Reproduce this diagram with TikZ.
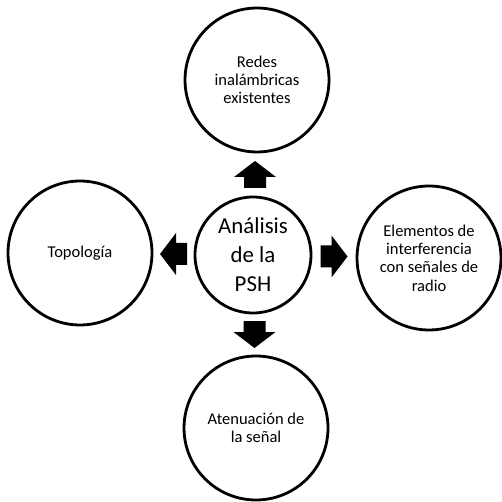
\documentclass[tikz,border=0pt]{standalone}
\usepackage{fontspec}
\setmainfont{Carlito}
\usepackage{tikz}
\usetikzlibrary{calc}
\tikzset{
  topic/.style={circle, draw=black, line width=1.6pt, minimum size=28.8mm,
    inner sep=0pt, align=center, font=\fontsize{9.4}{10.4}\selectfont},
  hub/.style={circle, draw=black, line width=1.6pt, minimum size=23.2mm,
    inner sep=0pt, align=center, font=\fontsize{13}{16.5}\selectfont},
  blockarrow/.pic={
    \fill[black] (-13.5,-11) -- (-2.5,-11) -- (-2.5,-21) -- (13.5,0)
      -- (-2.5,21) -- (-2.5,11) -- (-13.5,11) -- cycle;
  }
}

\begin{document}
\begin{tikzpicture}[x=0.02cm, y=-0.02cm]
\useasboundingbox (0,0) rectangle (501,502);

\node[hub] (hub) at (253,255) {Análisis\\de la\\PSH};
\node[topic] (redes) at (257,80) {Redes\\inalámbricas\\existentes};
\node[topic] (topologia) at (80,253) {Topología};
\node[topic] (elementos) at (429,258) {Elementos de\\interferencia\\con señales de\\radio};
\node[topic] (atenuacion) at (256,428) {Atenuación de\\la señal};

% block arrows between the hub and each topic
\coordinate (upA) at ($(hub.north)!0.5!(redes.south)$);
\coordinate (downA) at ($(hub.south)!0.5!(atenuacion.north)$);
\coordinate (leftA) at ($(hub.west)!0.5!(topologia.east)$);
\coordinate (rightA) at ($(hub.east)!0.5!(elementos.west)$);
\pic[rotate=90] at (upA) {blockarrow};
\pic[rotate=-90] at (downA) {blockarrow};
\pic[rotate=180] at (leftA) {blockarrow};
\pic at (rightA) {blockarrow};
\end{tikzpicture}
\end{document}
